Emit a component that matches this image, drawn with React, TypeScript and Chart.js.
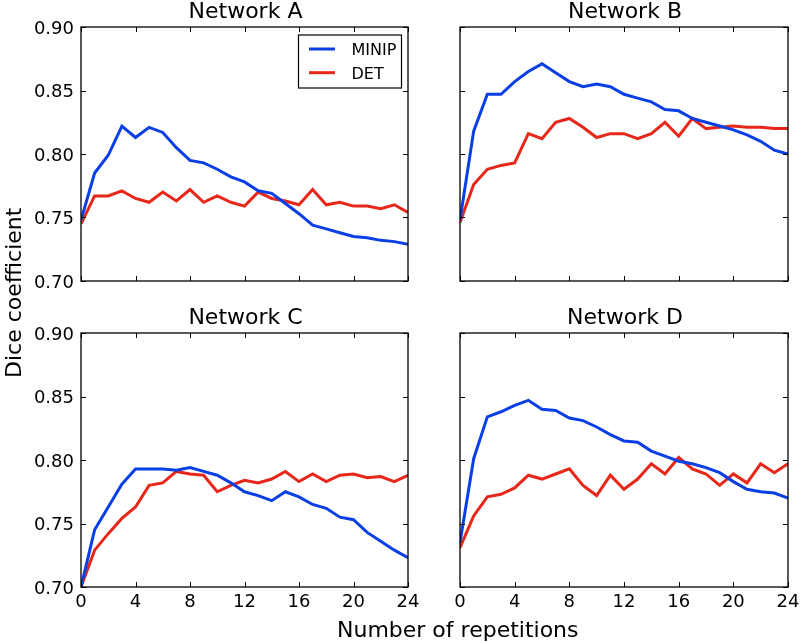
import React, { useEffect, useRef } from "react";
import { Chart, registerables } from "chart.js";

Chart.register(...registerables);

// ---------- data ----------
const REPS = [0, 1, 2, 3, 4, 5, 6, 7, 8, 9, 10, 11, 12, 13, 14, 15, 16, 17, 18, 19, 20, 21, 22, 23, 24];
const X_TICKS = [0, 4, 8, 12, 16, 20, 24];
const X_TICK_LABELS = ["0", "4", "8", "12", "16", "20", "24"];
const Y_TICKS = [0.7, 0.75, 0.8, 0.85, 0.9];
const Y_TICK_LABELS = ["0.70", "0.75", "0.80", "0.85", "0.90"];
const TITLES = ["Network A", "Network B", "Network C", "Network D"];
const SERIES_NAMES = ["MINIP", "DET"];
const X_LABEL = "Number of repetitions";
const Y_LABEL = "Dice coefficient";

const MINIP_A = [0.748, 0.785, 0.799, 0.822, 0.813, 0.821, 0.817, 0.805, 0.795, 0.793, 0.788, 0.782, 0.778, 0.771, 0.769, 0.761, 0.753, 0.744, 0.741, 0.738, 0.735, 0.734, 0.732, 0.731, 0.729];
const DET_A = [0.745, 0.767, 0.767, 0.771, 0.765, 0.762, 0.770, 0.763, 0.772, 0.762, 0.767, 0.762, 0.759, 0.770, 0.765, 0.763, 0.760, 0.772, 0.760, 0.762, 0.759, 0.759, 0.757, 0.760, 0.754];
const MINIP_B = [0.748, 0.818, 0.847, 0.847, 0.857, 0.865, 0.871, 0.864, 0.857, 0.853, 0.855, 0.853, 0.847, 0.844, 0.841, 0.835, 0.834, 0.828, 0.825, 0.822, 0.819, 0.815, 0.810, 0.803, 0.800];
const DET_B = [0.746, 0.776, 0.788, 0.791, 0.793, 0.816, 0.812, 0.825, 0.828, 0.821, 0.813, 0.816, 0.816, 0.812, 0.816, 0.825, 0.814, 0.828, 0.820, 0.821, 0.822, 0.821, 0.821, 0.820, 0.820];
const MINIP_C = [0.700, 0.745, 0.763, 0.781, 0.793, 0.793, 0.793, 0.792, 0.794, 0.791, 0.788, 0.782, 0.775, 0.772, 0.768, 0.775, 0.771, 0.765, 0.762, 0.755, 0.753, 0.743, 0.736, 0.729, 0.723];
const DET_C = [0.700, 0.729, 0.742, 0.754, 0.763, 0.780, 0.782, 0.791, 0.789, 0.788, 0.775, 0.780, 0.784, 0.782, 0.785, 0.791, 0.783, 0.789, 0.783, 0.788, 0.789, 0.786, 0.787, 0.783, 0.788];
const MINIP_D = [0.735, 0.801, 0.834, 0.838, 0.843, 0.847, 0.840, 0.839, 0.833, 0.831, 0.826, 0.820, 0.815, 0.814, 0.807, 0.803, 0.799, 0.797, 0.794, 0.790, 0.783, 0.777, 0.775, 0.774, 0.770];
const DET_D = [0.731, 0.756, 0.771, 0.773, 0.778, 0.788, 0.785, 0.789, 0.793, 0.780, 0.772, 0.788, 0.777, 0.785, 0.797, 0.789, 0.802, 0.793, 0.789, 0.780, 0.789, 0.782, 0.797, 0.790, 0.797];

// ---------- styling / layout ----------
const W = 800;
const H = 642;
const BLUE = "#0b3fe6";
const RED = "#e8271b";
const FONT = '"DejaVu Sans", sans-serif';

const PANELS = [
  { title: TITLES[0], minip: MINIP_A, det: DET_A, area: { l: 81, t: 27, r: 408, b: 281 }, yLabels: true, xLabels: false, legend: true, globals: true },
  { title: TITLES[1], minip: MINIP_B, det: DET_B, area: { l: 460, t: 27, r: 788, b: 281 }, yLabels: false, xLabels: false, legend: false, globals: false },
  { title: TITLES[2], minip: MINIP_C, det: DET_C, area: { l: 81, t: 333, r: 408, b: 587 }, yLabels: true, xLabels: true, legend: false, globals: false },
  { title: TITLES[3], minip: MINIP_D, det: DET_D, area: { l: 460, t: 333, r: 788, b: 587 }, yLabels: false, xLabels: true, legend: false, globals: false },
];

const framePlugin = {
  id: "frame",
  afterDatasetsDraw(chart: any, _args: any, opts: any) {
    const { ctx, chartArea: a } = chart;
    const x = chart.scales.x;
    const y = chart.scales.y;
    ctx.save();
    // frame
    ctx.strokeStyle = "#000";
    ctx.lineWidth = 1.3;
    ctx.strokeRect(a.left, a.top, a.right - a.left, a.bottom - a.top);
    // inward ticks
    const L = 5;
    ctx.lineWidth = 1;
    ctx.beginPath();
    X_TICKS.forEach((v) => {
      const px = Math.round(x.getPixelForValue(v)) + 0.5;
      ctx.moveTo(px, a.bottom);
      ctx.lineTo(px, a.bottom - L);
      ctx.moveTo(px, a.top);
      ctx.lineTo(px, a.top + L);
    });
    Y_TICKS.forEach((v) => {
      const py = Math.round(y.getPixelForValue(v)) + 0.5;
      ctx.moveTo(a.left, py);
      ctx.lineTo(a.left + L, py);
      ctx.moveTo(a.right, py);
      ctx.lineTo(a.right - L, py);
    });
    ctx.stroke();

    ctx.fillStyle = "#000";
    // tick labels
    ctx.font = `18px ${FONT}`;
    if (opts.yLabels) {
      ctx.textAlign = "right";
      ctx.textBaseline = "alphabetic";
      Y_TICKS.forEach((v, i) => {
        const py = y.getPixelForValue(v);
        ctx.fillText(Y_TICK_LABELS[i], a.left - 7, py + 6.6);
      });
    }
    if (opts.xLabels) {
      ctx.textAlign = "center";
      ctx.textBaseline = "alphabetic";
      X_TICKS.forEach((v, i) => {
        const px = x.getPixelForValue(v);
        ctx.fillText(X_TICK_LABELS[i], px, a.bottom + 20);
      });
    }
    // title
    ctx.font = `22px ${FONT}`;
    ctx.textAlign = "center";
    ctx.textBaseline = "alphabetic";
    ctx.fillText(opts.title, (a.left + a.right) / 2 + 1, a.top - 8.7);

    // legend
    if (opts.legend) {
      const bx = a.right - 109.5;
      const by = a.top + 8;
      ctx.fillStyle = "#fff";
      ctx.fillRect(bx, by, 103, 53);
      ctx.strokeStyle = "#000";
      ctx.lineWidth = 1.2;
      ctx.strokeRect(bx, by, 103, 53);
      ctx.font = `16px ${FONT}`;
      ctx.textAlign = "left";
      chart.data.datasets.forEach((ds: any, i: number) => {
        const ly = by + 14 + i * 23.7;
        ctx.strokeStyle = ds.borderColor;
        ctx.lineWidth = ds.borderWidth;
        ctx.beginPath();
        ctx.moveTo(bx + 10.5, ly);
        ctx.lineTo(bx + 36.5, ly);
        ctx.stroke();
        ctx.fillStyle = "#000";
        ctx.fillText(ds.label, bx + 53, ly + 5.9);
      });
    }

    // global axis labels
    if (opts.globals) {
      ctx.font = `22px ${FONT}`;
      ctx.textAlign = "left";
      ctx.fillStyle = "#000";
      ctx.fillText(X_LABEL, 337, 637);
      ctx.save();
      ctx.translate(20.5, 378);
      ctx.rotate(-Math.PI / 2);
      ctx.textAlign = "left";
      ctx.fillText(Y_LABEL, 0, 0);
      ctx.restore();
    }
    ctx.restore();
  },
};

function makeChart(canvas: HTMLCanvasElement, p: (typeof PANELS)[number]) {
  const toPts = (vals: number[]) => REPS.map((r, i) => ({ x: r, y: vals[i] }));
  return new Chart(canvas, {
    type: "line",
    data: {
      datasets: [
        { label: SERIES_NAMES[0], data: toPts(p.minip), borderColor: BLUE, backgroundColor: BLUE, borderWidth: 3, pointRadius: 0, tension: 0, clip: 0 } as any,
        { label: SERIES_NAMES[1], data: toPts(p.det), borderColor: RED, backgroundColor: RED, borderWidth: 3, pointRadius: 0, tension: 0, clip: 0 } as any,
      ],
    },
    options: {
      responsive: false,
      animation: false,
      events: [],
      layout: { padding: { left: p.area.l, top: p.area.t, right: W - p.area.r, bottom: H - p.area.b } },
      scales: {
        x: { type: "linear", min: 0, max: 24, display: false },
        y: { type: "linear", min: 0.7, max: 0.9, display: false },
      },
      plugins: {
        legend: { display: false },
        tooltip: { enabled: false },
        title: { display: false },
        frame: { title: p.title, yLabels: p.yLabels, xLabels: p.xLabels, legend: p.legend, globals: p.globals },
      } as any,
    },
    plugins: [framePlugin],
  });
}

export default function App() {
  const refs = [useRef<HTMLCanvasElement>(null), useRef<HTMLCanvasElement>(null), useRef<HTMLCanvasElement>(null), useRef<HTMLCanvasElement>(null)];
  useEffect(() => {
    const charts = PANELS.map((p, i) => makeChart(refs[i].current as HTMLCanvasElement, p));
    return () => charts.forEach((c) => c.destroy());
  }, []);
  return (
    <div style={{ position: "absolute", left: 0, top: 0, width: W, height: H, background: "#fff" }}>
      {PANELS.map((p, i) => (
        <canvas
          key={p.title}
          ref={refs[i]}
          width={W}
          height={H}
          style={{ position: "absolute", left: 0, top: 0, width: W, height: H }}
        />
      ))}
    </div>
  );
}
